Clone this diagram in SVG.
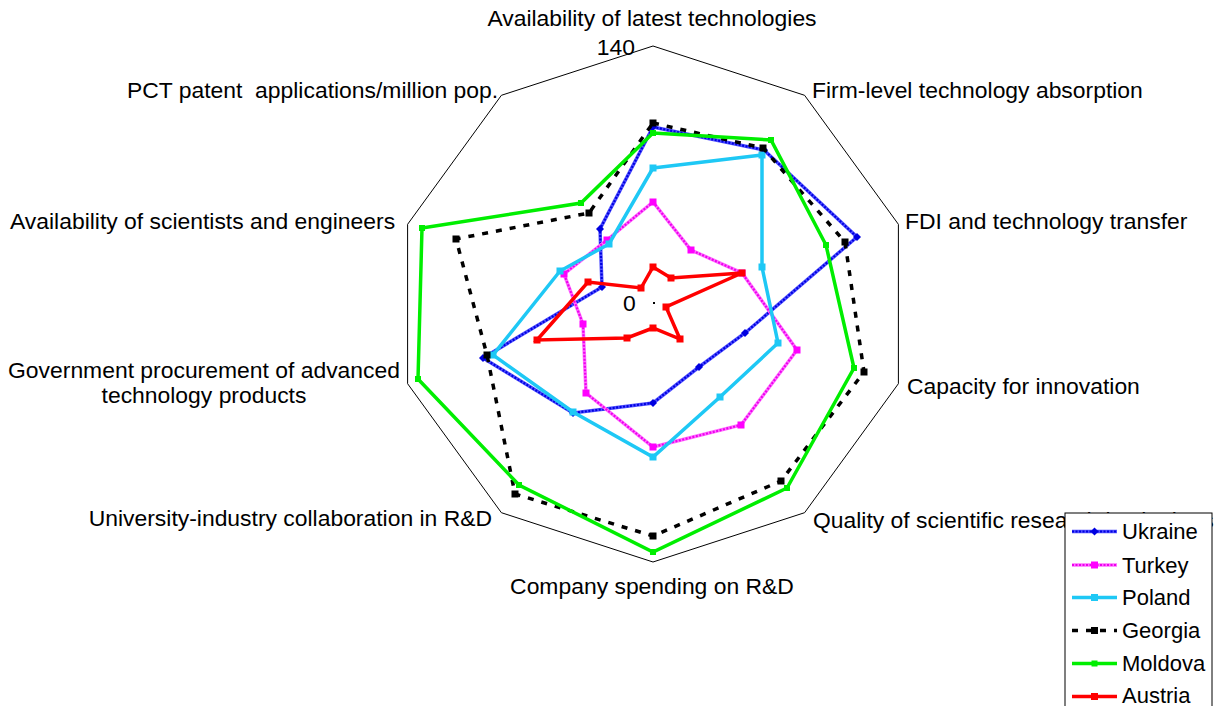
<svg xmlns="http://www.w3.org/2000/svg" width="1217" height="706" viewBox="0 0 1217 706">
<style>
text{font-family:"Liberation Sans",Arial,sans-serif;font-size:22.9px;fill:#000}
.lg{font-size:22px}
.s{fill:none;stroke-linejoin:miter}
.ukr{stroke:#5050ff;stroke-width:3.5}
.ukr2{stroke:#0000e0;stroke-width:2.2;stroke-dasharray:2 1.5}
.tur{stroke:#ff70ff;stroke-width:3.5}
.tur2{stroke:#ee00ee;stroke-width:2.2;stroke-dasharray:2 1.5}
.pol{stroke:#1ec8f5;stroke-width:3.5}
.geo{stroke:#000;stroke-width:3.5;stroke-dasharray:6 8}
.mol{stroke:#00ee00;stroke-width:3.5}
.aus{stroke:#ff0000;stroke-width:3.5}
</style>
<defs>
<marker id="mU" markerUnits="userSpaceOnUse" markerWidth="10" markerHeight="10" refX="5" refY="5" overflow="visible"><path d="M5 1L9 5L5 9L1 5Z" fill="#0000e0"/></marker>
<marker id="mT" markerUnits="userSpaceOnUse" markerWidth="10" markerHeight="10" refX="5" refY="5" overflow="visible"><rect x="1.5" y="1.5" width="7" height="7" fill="#ff00ff"/></marker>
<marker id="mP" markerUnits="userSpaceOnUse" markerWidth="10" markerHeight="10" refX="5" refY="5" overflow="visible"><rect x="1.5" y="1.5" width="7" height="7" fill="#1ec8f5"/></marker>
<marker id="mG" markerUnits="userSpaceOnUse" markerWidth="10" markerHeight="10" refX="5" refY="5" overflow="visible"><rect x="1.5" y="1.5" width="7" height="7" fill="#000"/></marker>
<marker id="mM" markerUnits="userSpaceOnUse" markerWidth="10" markerHeight="10" refX="5" refY="5" overflow="visible"><rect x="2" y="2" width="6" height="6" fill="#00ee00"/></marker>
<marker id="mA" markerUnits="userSpaceOnUse" markerWidth="10" markerHeight="10" refX="5" refY="5" overflow="visible"><rect x="1.5" y="1.5" width="7" height="7" fill="#ff0000"/></marker>
</defs>

<g id="grid">
<polygon points="653,46 804.6,95.3 898.4,224.3 898.4,383.7 804.6,512.7 653,562 501.4,512.7 407.6,383.7 407.6,224.3 501.4,95.3" fill="none" stroke="#000" stroke-width="1"/>
<rect x="653" y="302" width="2" height="2" fill="#000"/>
<text x="635" y="55" text-anchor="end">140</text>
<text x="623" y="311">0</text>
</g>

<g id="axis-labels">
<text id="lbl-latest" x="652" y="26" text-anchor="middle">Availability of latest technologies</text>
<text id="lbl-firm" x="812" y="98">Firm-level technology absorption</text>
<text id="lbl-fdi" x="905" y="229">FDI and technology transfer</text>
<text id="lbl-capacity" x="907" y="394">Capacity for innovation</text>
<text id="lbl-quality" x="813" y="528">Quality of scientific research institutions</text>
<text id="lbl-company" x="652" y="594" text-anchor="middle">Company spending on R&amp;D</text>
<text id="lbl-univ" x="492" y="526" text-anchor="end">University-industry collaboration in R&amp;D</text>
<text id="lbl-gov" x="204" y="378" text-anchor="middle">Government procurement of advanced</text>
<text id="lbl-gov2" x="204" y="403" text-anchor="middle">technology products</text>
<text id="lbl-sci" x="10" y="229">Availability of scientists and engineers</text>
<text id="lbl-pct" x="127" y="98" style="white-space:pre">PCT patent  applications/million pop.</text>
</g>

<g id="series">
<g id="ukraine">
<polygon class="s ukr" points="653,127 764,150 857,237 745,333 699,367 653,403 573,413 483,358 602,287 600,229"/>
<polygon class="s ukr2" points="653,127 764,150 857,237 745,333 699,367 653,403 573,413 483,358 602,287 600,229" marker-start="url(#mU)" marker-mid="url(#mU)"/>
</g>
<g id="turkey">
<polygon class="s tur" points="653,202 691,250 742,273 797,350 741,425 653,447 586,393 583,324 564,274 607,240"/>
<polygon class="s tur2" points="653,202 691,250 742,273 797,350 741,425 653,447 586,393 583,324 564,274 607,240" marker-start="url(#mT)" marker-mid="url(#mT)"/>
</g>
<g id="poland">
<polygon class="s pol" points="653,168 762,155 762,267 778,343 720,397 653,457 573,412 493,355 560,271 609,244" marker-start="url(#mP)" marker-mid="url(#mP)"/>
</g>
<g id="georgia">
<polygon class="s geo" points="653,123 763,148 845,242 864,372 781,481 653,536 515,494 487,355 456,239 589,213" marker-start="url(#mG)" marker-mid="url(#mG)"/>
</g>
<g id="moldova">
<polygon class="s mol" points="653,133 771,140 826,245 854,368 787,488 653,552 519,485 418,379 422,228 581,203" marker-start="url(#mM)" marker-mid="url(#mM)"/>
</g>
<g id="austria">
<polygon class="s aus" points="653,267 671,278 742,273 666,307 680,339 653,328 627,338 537,340 588,282 641,288" marker-start="url(#mA)" marker-mid="url(#mA)"/>
</g>
</g>

<g id="legend">
<rect x="1065" y="513" width="147" height="200" fill="#fff" stroke="#000" stroke-width="1"/>
<line class="s ukr" x1="1072" y1="531.5" x2="1117" y2="531.5"/>
<line class="s ukr2" x1="1072" y1="531.5" x2="1117" y2="531.5"/>
<path d="M1094.5 527.5L1098.5 531.5L1094.5 535.5L1090.5 531.5Z" fill="#0000e0"/>
<text class="lg" x="1122" y="539">Ukraine</text>
<line class="s tur" x1="1072" y1="565" x2="1117" y2="565"/>
<line class="s tur2" x1="1072" y1="565" x2="1117" y2="565"/>
<rect x="1091" y="561.5" width="7" height="7" fill="#ff00ff"/>
<text class="lg" x="1122" y="572.5">Turkey</text>
<line class="s pol" x1="1072" y1="597.5" x2="1117" y2="597.5"/>
<rect x="1091" y="594" width="7" height="7" fill="#1ec8f5"/>
<text class="lg" x="1122" y="605">Poland</text>
<line class="s geo" x1="1072" y1="630.5" x2="1117" y2="630.5"/>
<rect x="1091" y="627" width="7" height="7" fill="#000"/>
<text class="lg" x="1122" y="638">Georgia</text>
<line class="s mol" x1="1072" y1="663.5" x2="1117" y2="663.5"/>
<rect x="1091.5" y="660.5" width="6" height="6" fill="#00ee00"/>
<text class="lg" x="1122" y="671">Moldova</text>
<line class="s aus" x1="1072" y1="696.5" x2="1117" y2="696.5"/>
<rect x="1091" y="693" width="7" height="7" fill="#ff0000"/>
<text class="lg" x="1122" y="703">Austria</text>
</g>
</svg>
